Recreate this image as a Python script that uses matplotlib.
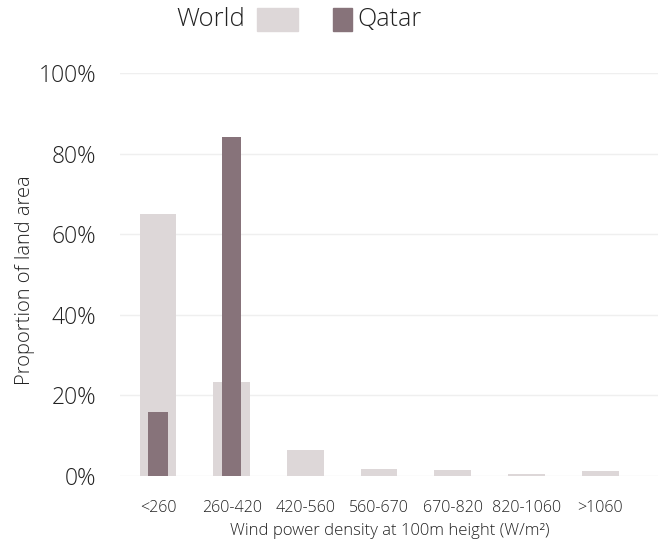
import matplotlib.pyplot as plt
import matplotlib.patches as mpatches
import numpy as np

categories = ['<260', '260-420', '420-560', '560-670', '670-820', '820-1060', '>1060']
world = [65.0, 23.3, 6.4, 1.7, 1.5, 0.5, 1.3]
qatar = [16.0, 84.0, 0, 0, 0, 0, 0]
yticks = [0, 20, 40, 60, 80, 100]

col_world = '#ddd7d8'
col_qatar = '#87737a'

plt.rcParams['font.family'] = ['Open Sans', 'DejaVu Sans']
plt.rcParams['font.weight'] = 'light'

fig = plt.figure(figsize=(6.62, 5.46), dpi=100)
ax = fig.add_axes([120/662, 1-476/546, 538/662, 403/546])

x = np.arange(len(categories))
ax.bar(x, world, width=0.5, color=col_world, zorder=2)
ax.bar(x, qatar, width=0.26, color=col_qatar, zorder=3)

ax.set_xlim(-0.515, 6.785)
ax.set_ylim(0, 100)
ax.set_yticks(yticks)
ax.set_yticklabels(['{}%'.format(v) for v in yticks], fontsize=16.5, color='#222222')
ax.set_xticks(x)
ax.set_xticklabels(categories, fontsize=11.5, color='#222222')
ax.tick_params(axis='y', length=0, pad=17)
ax.tick_params(axis='x', length=0, pad=17)
ax.yaxis.grid(True, color='#efefef', linewidth=1, zorder=0)
for s in ax.spines.values():
    s.set_visible(False)

fig.text(25/662, 1-280/546, 'Proportion of land area', fontsize=14.5, color='#222222',
         rotation=90, ha='center', va='center')
fig.text(390/662, 1-531/546, 'Wind power density at 100m height (W/m²)', fontsize=12,
         color='#222222', ha='center', va='center')

# legend drawn by hand
fig.text(245/662, 1-20/546, 'World', fontsize=18.5, ha='right', va='center', color='#222222')
fig.patches.append(mpatches.Rectangle((257/662, 1-31/546), 41/662, 23/546,
                                      transform=fig.transFigure, color=col_world, figure=fig))
fig.patches.append(mpatches.Rectangle((333/662, 1-31/546), 19/662, 23/546,
                                      transform=fig.transFigure, color=col_qatar, figure=fig))
fig.text(357/662, 1-20/546, 'Qatar', fontsize=18, ha='left', va='center', color='#222222')

fig.savefig('out.png', dpi=100)
